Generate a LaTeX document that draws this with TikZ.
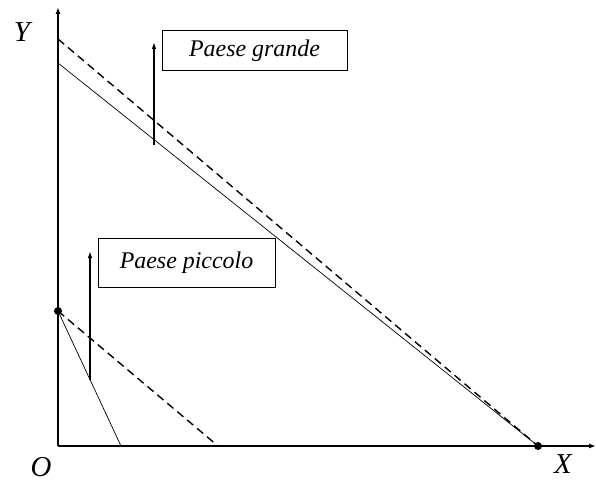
\documentclass[tikz,border=0pt]{standalone}
\usepackage{fontspec}
\setmainfont{Liberation Serif}
\usetikzlibrary{arrows.meta}
\tikzset{
  axis/.style={line width=1.4pt,-{Latex[length=7bp,width=5bp]}},
  budget/.style={line width=0.7pt},
  shifted/.style={line width=1.4pt,dash pattern=on 8bp off 5bp},
  shiftarrow/.style={line width=1.2pt,-{Latex[length=7bp,width=4.5bp]}},
  labelbox/.style={draw,line width=1pt,inner sep=0pt,font=\fontsize{24}{28}\selectfont\itshape},
  axlabel/.style={font=\fontsize{29}{33}\selectfont\itshape,inner sep=0pt},
  dot/.style={circle,fill,inner sep=0pt,minimum size=8bp}
}
\begin{document}
\begin{tikzpicture}[x=1bp,y=-1bp]
\useasboundingbox (0,0) rectangle (596,482);
\coordinate (O) at (58,446);
\coordinate (Ytop) at (58,7);
\coordinate (Xend) at (596,446);
\draw[axis] (O) -- (Ytop);
\draw[axis] (O) -- (Xend);
\node[axlabel] (ylab) at (22,32) {Y};
\node[axlabel] (olab) at (41,467) {O};
\node[axlabel] (xlab) at (563,464) {X};
% large country
\node[dot] (xint) at (538,446) {};
\coordinate (bigS) at (58,63);
\coordinate (bigD) at (58,39);
\draw[budget] (bigS) -- (xint.center);
\draw[shifted] (bigD) -- (xint.center);
\coordinate (bigA0) at (154,145);
\coordinate (bigA1) at (154,42);
\draw[shiftarrow] (bigA0) -- (bigA1);
\node[labelbox,minimum width=185bp,minimum height=40bp] (grande) at (254.5,51) {Paese grande};
% small country
\node[dot] (yint) at (58,311) {};
\coordinate (smS) at (121,446);
\coordinate (smD) at (218,446);
\draw[budget] (yint.center) -- (smS);
\draw[shifted] (yint.center) -- (smD);
\coordinate (smA0) at (90,380);
\coordinate (smA1) at (90,251);
\draw[shiftarrow] (smA0) -- (smA1);
\node[labelbox,minimum width=177bp,minimum height=49bp] (piccolo) at (186.5,263) {Paese piccolo};
\end{tikzpicture}
\end{document}
